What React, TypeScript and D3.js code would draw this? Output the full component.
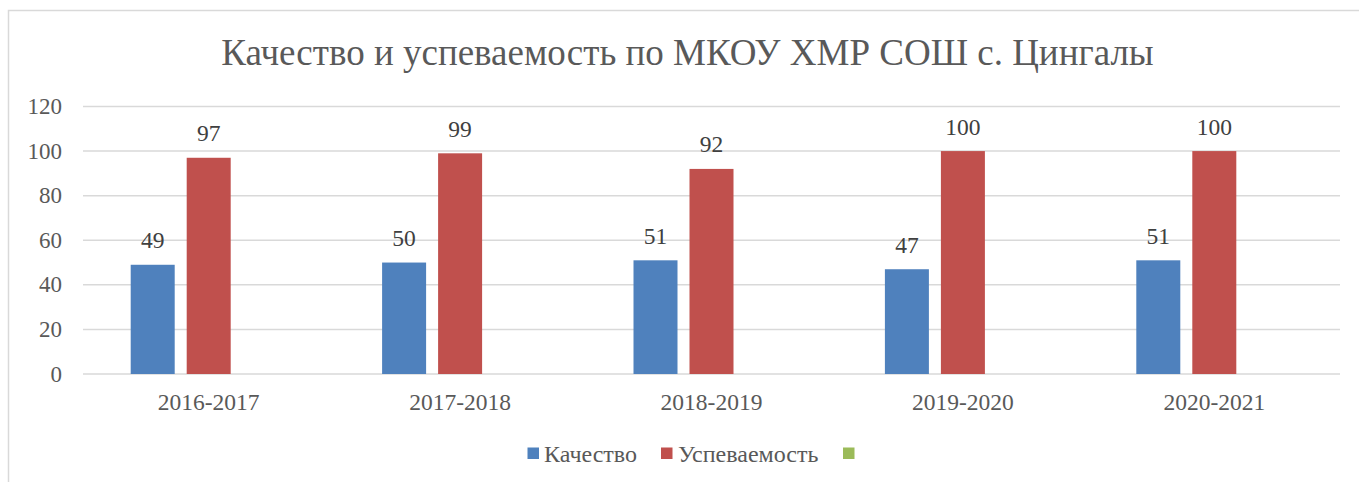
import React from "react";
import * as d3 from "d3";

const title = "Качество и успеваемость по МКОУ ХМР СОШ с. Цингалы";
const categories = ["2016-2017", "2017-2018", "2018-2019", "2019-2020", "2020-2021"];
const seriesNames = ["Качество", "Успеваемость", ""];
const kachestvo = [49, 50, 51, 47, 51];
const uspevaemost = [97, 99, 92, 100, 100];
const third: (number | null)[] = [null, null, null, null, null];
const yTicks = [0, 20, 40, 60, 80, 100, 120];
const colors = ["#4F81BD", "#C0504D", "#9BBB59"];

const W = 1359;
const H = 482;
const FONT = "Liberation Serif";
const TEXT = "#595959";
const fs = (size: number) => ({ fontFamily: FONT, fontSize: size });

export default function App() {
  const series = [kachestvo, uspevaemost, third];
  const x0 = d3.scaleBand<string>().domain(categories).range([83, 1340]).padding(0);
  const groupW = 156;
  const x1 = d3
    .scaleBand<number>()
    .domain([0, 1, 2])
    .range([0, groupW])
    .paddingInner(12 / 56)
    .paddingOuter(0);
  const y = d3.scaleLinear().domain([0, 120]).range([374, 106.5]);
  const off = (x0.bandwidth() - groupW) / 2;

  const legendItems = [
    { sq: 527.5, tx: 544, name: seriesNames[0], c: colors[0] },
    { sq: 661, tx: 678, name: seriesNames[1], c: colors[1] },
    { sq: 843, tx: 860, name: seriesNames[2], c: colors[2] },
  ];

  return (
    <svg
      width={W}
      height={H}
      style={{ position: "absolute", left: 0, top: 0, background: "#fff", fontFamily: FONT }}
    >
      <rect x={0} y={0} width={W} height={H} fill="#fff" />
      <path d={`M8.5,${H + 2} V10.5 H${W + 2}`} fill="none" stroke="#D9D9D9" strokeWidth={1.5} />
      <text x={687.5} y={65} textAnchor="middle" style={fs(37)} fill={TEXT}>
        {title}
      </text>
      {yTicks.map((t) => (
        <g key={t}>
          <line x1={83} x2={1340} y1={y(t)} y2={y(t)} stroke="#D9D9D9" strokeWidth={1.5} />
          <text x={62} y={y(t) + 7.5} textAnchor="end" style={fs(23)} fill={TEXT}>
            {t}
          </text>
        </g>
      ))}
      {categories.map((cat, i) => (
        <g key={cat} transform={`translate(${(x0(cat) as number) + off},0)`}>
          {series.map((s, si) => {
            const v = s[i];
            if (v == null) return null;
            const bx = x1(si) as number;
            return (
              <g key={si}>
                <rect x={bx} y={y(v)} width={x1.bandwidth()} height={y(0) - y(v)} fill={colors[si]} />
                <text
                  x={bx + x1.bandwidth() / 2}
                  y={y(v) - 16.5}
                  textAnchor="middle"
                  style={fs(23.5)}
                  fill="#404040"
                >
                  {v}
                </text>
              </g>
            );
          })}
        </g>
      ))}
      {categories.map((cat) => (
        <text
          key={cat}
          x={(x0(cat) as number) + x0.bandwidth() / 2}
          y={410}
          textAnchor="middle"
          style={fs(23.5)}
          fill={TEXT}
        >
          {cat}
        </text>
      ))}
      {legendItems.map((l, i) => (
        <g key={i}>
          <rect x={l.sq} y={447.5} width={11.5} height={11.5} fill={l.c} />
          <text x={l.tx} y={462} style={fs(24)} fill={TEXT}>
            {l.name}
          </text>
        </g>
      ))}
    </svg>
  );
}
